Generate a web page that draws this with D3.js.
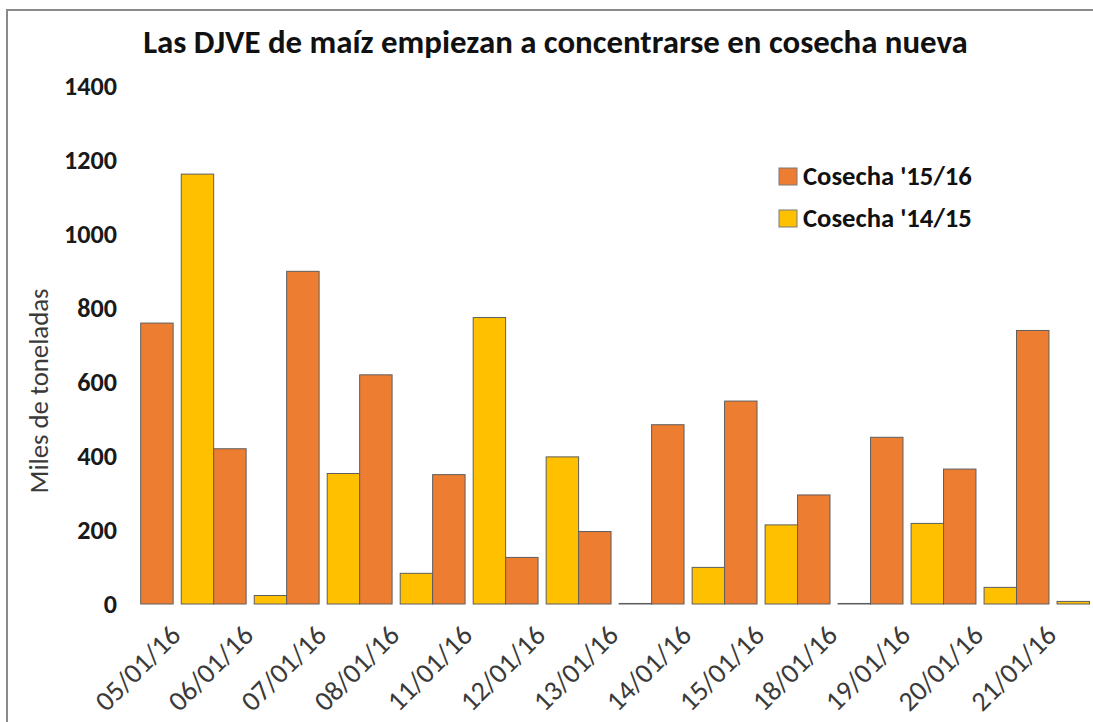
<!DOCTYPE html>
<html><head><meta charset="utf-8">
<script src="https://cdn.jsdelivr.net/npm/d3@7"></script>
<style>
body{margin:0;background:#fff;}
svg{display:block;}
text{font-family: Carlito, Lato, "Open Sans", sans-serif;}
</style>
</head><body>
<svg id="chart" width="1093" height="722"></svg>
<script>
// ---- data ----
const categories = ["05/01/16","06/01/16","07/01/16","08/01/16","11/01/16","12/01/16","13/01/16","14/01/16","15/01/16","18/01/16","19/01/16","20/01/16","21/01/16"];
const cosecha1516 = [760, 420, 900, 620, 350, 126, 196, 485, 549, 295, 451, 365, 740];
const cosecha1415 = [1163, 23, 353, 83, 775, 398, 1.5, 99, 214, 1.5, 218, 45, 7];
const seriesNames = ["Cosecha '15/16", "Cosecha '14/15"];
const seriesColors = ["#ED7D31", "#FFC000"];
const yTicks = [0, 200, 400, 600, 800, 1000, 1200, 1400];
const titleText = "Las DJVE de maíz empiezan a concentrarse en cosecha nueva";
const yTitle = "Miles de toneladas";

const svg = d3.select("#chart");

function fitText(sel, target) {
  const node = sel.node();
  const fs = parseFloat(sel.attr("font-size"));
  const len = node.getComputedTextLength();
  const nfs = fs * target / len;
  sel.attr("font-size", nfs);
  return nfs;
}

// frame
svg.append("rect").attr("x", 7).attr("y", 10).attr("width", 1100).attr("height", 730)
  .attr("fill", "none").attr("stroke", "#8a8a8a").attr("stroke-width", 2);

// scales
const x = d3.scaleBand().domain(categories).range([140.7, 1089.5]).paddingInner(0).paddingOuter(0);
const xs = d3.scaleBand().domain(seriesNames).range([0, x.bandwidth()]).paddingInner(0.2).paddingOuter(0);
const y = d3.scaleLinear().domain([0, 1400]).range([604, 86.5]);

const rows = categories.map((c, i) => ({cat: c, vals: [cosecha1516[i], cosecha1415[i]]}));

// bars
const g = svg.append("g");
const groups = g.selectAll("g.grp").data(rows).join("g")
  .attr("transform", d => `translate(${x(d.cat)},0)`);
groups.selectAll("rect").data(d => d.vals.map((v, j) => ({v, j}))).join("rect")
  .attr("x", d => xs(seriesNames[d.j]))
  .attr("width", xs.bandwidth())
  .attr("y", d => y(d.v))
  .attr("height", d => y(0) - y(d.v))
  .attr("fill", d => seriesColors[d.j])
  .attr("stroke", "#5e5e5e")
  .attr("stroke-width", 1);

// y axis
const yAxis = svg.append("g").attr("transform", "translate(117,0)")
  .call(d3.axisLeft(y).tickValues(yTicks).tickSize(0).tickPadding(0).tickFormat(d3.format("d")));
yAxis.select(".domain").remove();
const yt = yAxis.selectAll("text").attr("font-family", null).attr("font-weight", "bold").attr("fill", "#1a1a1a").attr("font-size", 20);
const probe = yAxis.selectAll("text").filter(d => d === 1400);
const yfs = fitText(probe, 53);
yt.attr("font-size", yfs);

// x axis
const xAxis = svg.append("g").attr("transform", "translate(0,604)")
  .call(d3.axisBottom(x).tickSize(0).tickPadding(0));
xAxis.select(".domain").remove();
const xt = xAxis.selectAll("text").attr("font-family", null).attr("fill", "#3a3a3a")
  .attr("font-size", 20).attr("y", 0).attr("dy", 0).attr("text-anchor", "end")
  .attr("transform", "translate(5,33) rotate(-45)");
const xfs = fitText(xAxis.selectAll("text").filter((d, i) => i === 0), 107);
xt.attr("font-size", xfs);

// title
const t = svg.append("text").attr("x", 555.5).attr("y", 53).attr("text-anchor", "middle")
  .attr("font-weight", "bold").attr("font-size", 28).attr("fill", "#111").text(titleText);
fitText(t, 825);

// y title
const ytl = svg.append("text").attr("transform", "translate(48,391) rotate(-90)")
  .attr("text-anchor", "middle").attr("font-size", 20).attr("fill", "#3a3a3a").text(yTitle);
fitText(ytl, 205);

// legend
const leg = svg.append("g");
const items = leg.selectAll("g").data(seriesNames).join("g")
  .attr("transform", (d, i) => `translate(779,${168 + i * 42})`);
items.append("rect").attr("width", 18).attr("height", 17)
  .attr("fill", (d, i) => seriesColors[i]).attr("stroke", "#7a7a7a").attr("stroke-width", 1);
const lt = items.append("text").attr("x", 24).attr("y", 17).attr("font-weight", "bold")
  .attr("font-size", 22).attr("fill", "#111").text(d => d);
const lfs = fitText(lt.filter((d, i) => i === 0), 169);
lt.attr("font-size", lfs);
</script>
</body></html>
